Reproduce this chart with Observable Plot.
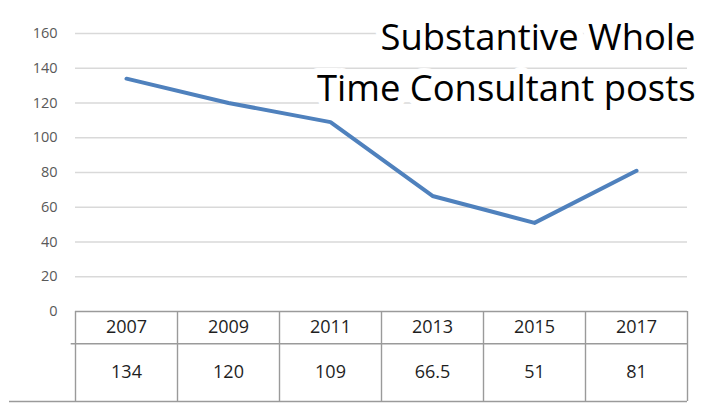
<!DOCTYPE html>
<html>
<head>
<meta charset="utf-8">
<script src="https://cdn.jsdelivr.net/npm/d3@7"></script>
<script src="https://cdn.jsdelivr.net/npm/@observablehq/plot@0.6"></script>
<style>
  html, body { margin: 0; padding: 0; background: #fff; }
  #chart { width: 706px; height: 406px; }
</style>
</head>
<body>
<div id="chart"></div>
<script>
// ---- data ----
const years = [2007, 2009, 2011, 2013, 2015, 2017];
const posts = [134, 120, 109, 66.5, 51, 81];
const valueLabels = ["134", "120", "109", "66.5", "51", "81"];
const yTicks = [0, 20, 40, 60, 80, 100, 120, 140, 160];
const titleLines = ["Substantive Whole", "Time Consultant posts"];

// ---- layout helpers ----
const W = 706, H = 406;
const mTop = 33, mBottom = 95, mLeft = 75, mRight = 19;
const yMax = 160;
const pxPerUnit = (H - mBottom - mTop) / yMax;
const yAtPx = (px) => ((H - mBottom) - px) / pxPerUnit; // y-value located at pixel row px
const xStep = 2; // years per table column
const xMin = years[0] - xStep / 2, xMax = years[years.length - 1] + xStep / 2;
const pxPerYear = (W - mLeft - mRight) / (xMax - xMin);
const xAtPx = (px) => xMin + (px - mLeft) / pxPerYear;

const rowMid = yAtPx(343.3);
const rowBottom = yAtPx(401);
const row1Text = yAtPx(326.5);
const row2Text = yAtPx(372);

const data = years.map((year, i) => ({year, value: posts[i], label: valueLabels[i]}));
const colEdges = d3.range(years.length + 1).map(i => xMin + i * xStep);

const hLines = [
  {x1: xMin, x2: xMax, y: 0},
  {x1: xAtPx(70.7), x2: xMax, y: rowMid},
  {x1: xAtPx(9), x2: xMax, y: rowBottom}
];

const tableStroke = "#9a9a9a";

const chart = Plot.plot({
  width: W,
  height: H,
  marginTop: mTop,
  marginBottom: mBottom,
  marginLeft: mLeft,
  marginRight: mRight,
  style: {fontFamily: "'Open Sans', sans-serif", background: "#fff", overflow: "visible"},
  x: {domain: [xMin, xMax], axis: null},
  y: {domain: [0, yMax]},
  marks: [
    Plot.gridY(yTicks.filter(d => d > 0), {stroke: "#d9d9d9", strokeOpacity: 1, strokeWidth: 1.3}),
    Plot.axisY(yTicks, {tickSize: 0, tickPadding: 18, fontSize: 14.5, fill: "#595959", label: null}),
    // title inside plot area, on an opaque (white) text box
    Plot.text([titleLines.join("\n")], {
      frameAnchor: "top-right", textAnchor: "end", lineAnchor: "top",
      dx: 8, dy: -20, fontSize: 36.4, lineHeight: 1.41, fill: "#000",
      stroke: "#fff", strokeWidth: 14, strokeLinejoin: "round"
    }),
    // data table grid
    Plot.ruleX(colEdges, {y1: 0, y2: rowBottom, stroke: tableStroke, strokeWidth: 1.4}),
    Plot.ruleY(hLines, {y: "y", x1: "x1", x2: "x2", stroke: tableStroke, strokeWidth: 1.4}),
    Plot.text(data, {x: "year", y: row1Text, text: d => String(d.year), fontSize: 18, fill: "#1e1e1e"}),
    Plot.text(data, {x: "year", y: row2Text, text: "label", fontSize: 18, fill: "#1e1e1e"}),
    // series line
    Plot.line(data, {x: "year", y: "value", stroke: "#4f81bd", strokeWidth: 4, strokeLinejoin: "round", strokeLinecap: "round"})
  ]
});
document.getElementById("chart").appendChild(chart);
</script>
</body>
</html>
